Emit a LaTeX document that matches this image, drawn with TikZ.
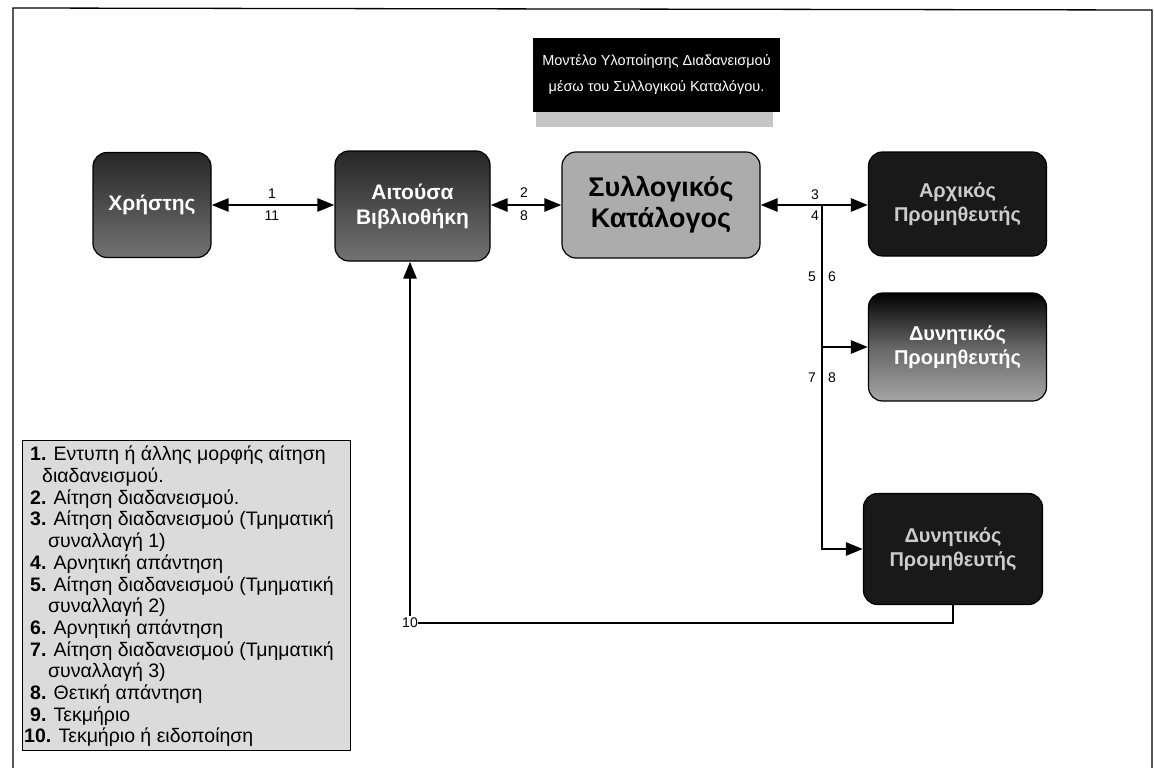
\documentclass[tikz,border=0pt]{standalone}
\usepackage{fontspec}
\setmainfont{Liberation Sans}
\usetikzlibrary{arrows.meta,positioning}
\tikzset{
  box/.style={draw=black, line width=1.2pt, rounded corners=14pt, align=center, inner sep=0pt},
  darkbox/.style={box, top color=black!85, bottom color=black!55, text=white, font=\fontsize{21}{25}\selectfont\bfseries},
  blackbox/.style={box, fill=black!90, text=white!80!black, font=\fontsize{20}{24}\selectfont\bfseries},
  arr/.style={line width=2.6pt, -{Triangle[length=17pt,width=13pt]}},
  dbl/.style={line width=2.6pt, {Triangle[length=17pt,width=13pt]}-{Triangle[length=17pt,width=13pt]}},
  num/.style={font=\fontsize{14}{16}\selectfont, inner sep=0pt},
  frameline/.style={line width=1.3pt},
}
\begin{document}
\begin{tikzpicture}[x=1pt,y=-1pt]
\useasboundingbox (0,0) rectangle (1154,768);
% frame
\draw[frameline] (13,768) -- (13,8) -- (1152,10) -- (1152,768);
% title
\fill[gray!45] (536,108) rectangle (773,127);
\node[fill=black, minimum width=247, minimum height=74, inner sep=0pt, text=white,
      align=center, font=\fontsize{14.5}{26}\selectfont] (title) at (656.5,75)
  {Μοντέλο Υλοποίησης Διαδανεισμού\\μέσω του Συλλογικού Καταλόγου.};
% boxes
\node[darkbox, minimum width=118, minimum height=105] (user) at (152,205) {Χρήστης};
\node[darkbox, minimum width=155, minimum height=110] (lib) at (412.5,206) {Αιτούσα\\Βιβλιοθήκη};
\node[box, fill=gray!65, minimum width=198, minimum height=106,
      font=\fontsize{27}{31}\selectfont\bfseries] (cat) at (661,205) {Συλλογικός\\Κατάλογος};
\node[blackbox, minimum width=178, minimum height=104] (sup1) at (957.5,204) {Αρχικός\\Προμηθευτής};
\node[box, top color=black, bottom color=gray!70, middle color=black!60, text=white,
      font=\fontsize{20}{24}\selectfont\bfseries, minimum width=178, minimum height=108] (sup2) at (957.5,347) {Δυνητικός\\Προμηθευτής};
\node[blackbox, minimum width=179, minimum height=111] (sup3) at (953,549) {Δυνητικός\\Προμηθευτής};
% connectors
\draw[dbl] (user.east) -- (lib.west |- user.east);
\draw[dbl] (lib.east |- cat.west) -- (cat.west);
\draw[dbl] (cat.east) -- (sup1.west |- cat.east);
\coordinate (j) at (822,205);
\draw[arr] (j) |- (sup3.west);
\draw[arr] (j |- sup2.west) -- (sup2.west);
\node[num] (n10) at (410,623) {10};
\draw[line width=2.2pt] (sup3.south) |- (n10.east);
\draw[arr] (n10.north) ++(0,-2) -- (n10.north |- lib.south);
% labels
\node[num] (l1) at (272,194) {1};
\node[num] (l11) at (272,216) {11};
\node[num] (l2) at (524,193) {2};
\node[num] (l8a) at (524,216) {8};
\node[num] (l3) at (815,195) {3};
\node[num] (l4) at (815,216) {4};
\node[num] (l5) at (812,277) {5};
\node[num] (l6) at (832,277) {6};
\node[num] (l7) at (812,378) {7};
\node[num] (l8b) at (832,378) {8};
% legend
\node[draw=black, line width=1.2pt, fill=gray!28, minimum width=328, minimum height=310,
      anchor=north west, inner sep=0pt] (legend) at (22,440) {};
\node[anchor=north west, align=left, inner sep=0pt, font=\fontsize{19.5}{21.7}\selectfont]
  (legtext) at (24,446) {%
\hspace*{6pt}\textbf{1.} Εντυπη ή άλλης μορφής αίτηση\\
\hspace*{18pt}διαδανεισμού.\\
\hspace*{6pt}\textbf{2.} Αίτηση διαδανεισμού.\\
\hspace*{6pt}\textbf{3.} Αίτηση διαδανεισμού (Τμηματική\\
\hspace*{24pt}συναλλαγή 1)\\
\hspace*{6pt}\textbf{4.} Αρνητική απάντηση\\
\hspace*{6pt}\textbf{5.} Αίτηση διαδανεισμού (Τμηματική\\
\hspace*{24pt}συναλλαγή 2)\\
\hspace*{6pt}\textbf{6.} Αρνητική απάντηση\\
\hspace*{6pt}\textbf{7.} Αίτηση διαδανεισμού (Τμηματική\\
\hspace*{24pt}συναλλαγή 3)\\
\hspace*{6pt}\textbf{8.} Θετική απάντηση\\
\hspace*{6pt}\textbf{9.} Τεκμήριο\\
\textbf{10.} Τεκμήριο ή ειδοποίηση};
\end{tikzpicture}
\end{document}
